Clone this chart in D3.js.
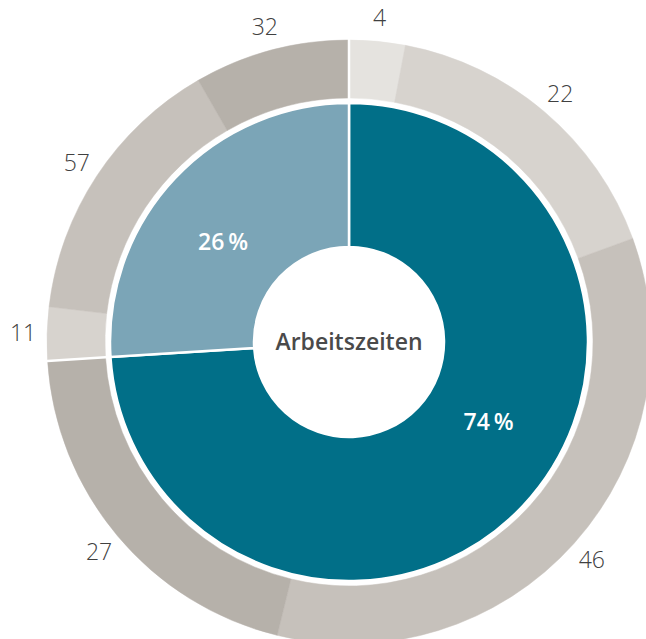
<!DOCTYPE html>
<html>
<head>
<meta charset="utf-8">
<script src="https://cdn.jsdelivr.net/npm/d3@7"></script>
<style>
  body { margin: 0; background: #fff; overflow: hidden; }
  svg { display: block; }
</style>
</head>
<body>
<svg id="chart"></svg>
<script>
// inner ring: share of the two groups (percent)
const groups = ['a', 'b'];
const groupShares = [74, 26];
const groupLabels = ['74\u2009%', '26\u2009%'];
const groupColors = ['#016f88', '#7ba5b7'];

// outer ring: breakdown within each group
const outerGroup = ['a', 'a', 'a', 'a', 'b', 'b', 'b'];
const outerValues = [4, 22, 46, 27, 11, 57, 32];
const outerColors = ['#e5e3df', '#d7d3ce', '#c6c1bb', '#b6b1aa', '#d7d3ce', '#c6c1bb', '#b6b1aa'];

const centerTitle = 'Arbeitszeiten';

const width = 646;
const height = 639;
const cx = 349, cy = 342;

const svg = d3.select('#chart')
  .attr('width', width)
  .attr('height', height);

const g = svg.append('g').attr('transform', `translate(${cx},${cy})`);

// inner pie
const pie = d3.pie().sort(null).value(d => d.value);
const innerData = pie(groups.map((k, i) => ({key: k, value: groupShares[i], i})));

const innerArc = d3.arc().innerRadius(95).outerRadius(239);

g.selectAll('path.inner')
  .data(innerData)
  .join('path')
  .attr('class', 'inner')
  .attr('d', innerArc)
  .attr('fill', d => groupColors[d.data.i])
  .attr('stroke', '#fff')
  .attr('stroke-width', 2.5);

// outer ring: each item takes its part of its group's angle
const outerArcs = [];
innerData.forEach(gd => {
  const idx = outerGroup.map((k, i) => k === gd.data.key ? i : -1).filter(i => i >= 0);
  const total = d3.sum(idx, i => outerValues[i]);
  const angle = d3.scaleLinear().domain([0, total]).range([gd.startAngle, gd.endAngle]);
  let acc = 0;
  idx.forEach(i => {
    outerArcs.push({i, value: outerValues[i], startAngle: angle(acc), endAngle: angle(acc + outerValues[i])});
    acc += outerValues[i];
  });
});

const outerArc = d3.arc().innerRadius(244).outerRadius(302);

g.selectAll('path.outer')
  .data(outerArcs)
  .join('path')
  .attr('class', 'outer')
  .attr('d', outerArc)
  .attr('fill', d => outerColors[d.i])
  .attr('stroke', d => outerColors[d.i])
  .attr('stroke-width', 0.5);

// white separators between the groups on the outer ring
g.selectAll('line.sep')
  .data(innerData)
  .join('line')
  .attr('class', 'sep')
  .attr('x1', d => Math.sin(d.startAngle) * 240)
  .attr('y1', d => -Math.cos(d.startAngle) * 240)
  .attr('x2', d => Math.sin(d.startAngle) * 310)
  .attr('y2', d => -Math.cos(d.startAngle) * 310)
  .attr('stroke', '#fff')
  .attr('stroke-width', 2.5);

// outer labels
const labelArc = d3.arc().innerRadius(326).outerRadius(326);
g.selectAll('text.outer-label')
  .data(outerArcs)
  .join('text')
  .attr('class', 'outer-label')
  .attr('transform', d => `translate(${labelArc.centroid(d)})`)
  .attr('text-anchor', 'middle')
  .attr('dy', '0.36em')
  .style('font-family', '"Open Sans", sans-serif')
  .style('font-weight', 300)
  .style('font-size', '23px')
  .style('fill', '#404040')
  .text(d => d.value);

// percent labels inside the inner ring
g.selectAll('text.pct')
  .data(innerData)
  .join('text')
  .attr('class', 'pct')
  .attr('transform', d => {
    const a = d.startAngle + 0.45 * (d.endAngle - d.startAngle);
    return `translate(${Math.sin(a) * 161},${-Math.cos(a) * 161})`;
  })
  .attr('text-anchor', 'middle')
  .attr('dy', '0.36em')
  .style('font-family', '"Open Sans", sans-serif')
  .style('font-weight', 600)
  .style('font-size', '23px')
  .style('fill', '#fff')
  .text(d => groupLabels[d.data.i]);

// center title
g.append('text')
  .attr('text-anchor', 'middle')
  .attr('dy', '0.36em')
  .style('font-family', '"Open Sans", sans-serif')
  .style('font-weight', 600)
  .style('font-size', '23px')
  .style('fill', '#4a4a4a')
  .text(centerTitle);
</script>
</body>
</html>
